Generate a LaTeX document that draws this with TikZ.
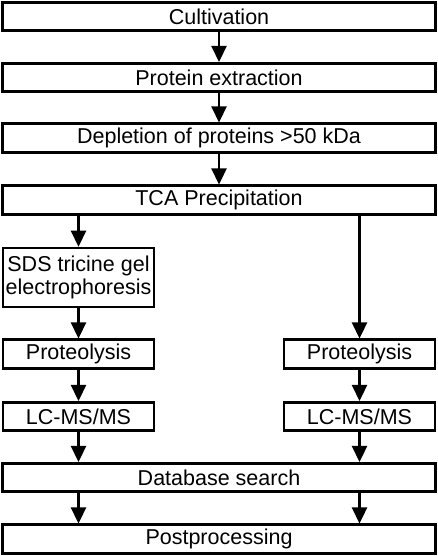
\documentclass[tikz,border=0pt]{standalone}
\usepackage{fontspec}
\setmainfont{Liberation Sans}
\usetikzlibrary{arrows.meta}
\begin{document}
\begin{tikzpicture}[x=1pt,y=-1pt,
  box/.style={draw=black,line width=2.6pt,fill=white,inner sep=0pt,align=center,font=\fontsize{21.5}{25}\selectfont},
  wide/.style={box,minimum width=433pt,minimum height=28.5pt},
  small/.style={box,minimum width=151pt,minimum height=28.5pt},
  arr/.style={line width=2.6pt,-{Triangle[length=16pt,width=15pt]}}]
\useasboundingbox (0,0) rectangle (438,556);
\node[wide] (cult) at (219,16.5) {Cultivation};
\node[wide] (ext) at (219,77.5) {Protein extraction};
\node[wide] (dep) at (219,138) {Depletion of proteins >50 kDa};
\node[wide] (tca) at (219,200) {TCA Precipitation};
\node[small,minimum height=59pt] (sds) at (78.5,277.5) {SDS tricine gel\\[-2pt]electrophoresis};
\node[small] (prl) at (78.5,354) {Proteolysis};
\node[small] (prr) at (359.5,354) {Proteolysis};
\node[small] (lcl) at (78.5,416.5) {LC-MS/MS};
\node[small] (lcr) at (359.5,416.5) {LC-MS/MS};
\node[wide] (db) at (219,477.5) {Database search};
\node[wide] (post) at (219,539) {Postprocessing};
\draw[arr] (cult) -- (ext);
\draw[arr] (ext) -- (dep);
\draw[arr] (dep) -- (tca);
\draw[arr] (tca.south -| sds.north) -- (sds.north);
\draw[arr] (tca.south -| prr.north) -- (prr.north);
\draw[arr] (sds) -- (prl);
\draw[arr] (prl) -- (lcl);
\draw[arr] (prr) -- (lcr);
\draw[arr] (lcl) -- (db.north -| lcl.south);
\draw[arr] (lcr) -- (db.north -| lcr.south);
\draw[arr] (db.south -| lcl.south) -- (post.north -| lcl.south);
\draw[arr] (db.south -| lcr.south) -- (post.north -| lcr.south);
\end{tikzpicture}
\end{document}
